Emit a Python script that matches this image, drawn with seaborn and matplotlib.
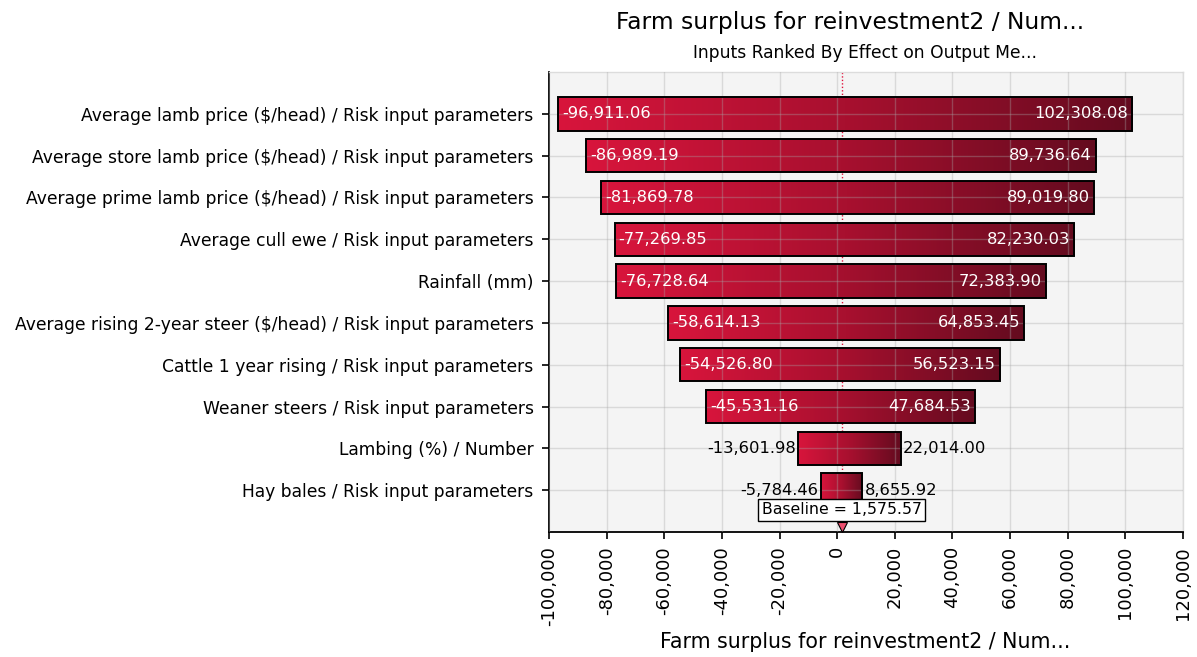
import numpy as np
import pandas as pd
import matplotlib
matplotlib.use("Agg")
import matplotlib.pyplot as plt
from matplotlib.colors import LinearSegmentedColormap
import seaborn as sns

# Tornado data: output value when each input is at its low / high setting
inputs = [
    "Average lamb price ($/head) / Risk input parameters",
    "Average store lamb price ($/head) / Risk input parameters",
    "Average prime lamb price ($/head) / Risk input parameters",
    "Average cull ewe / Risk input parameters",
    "Rainfall (mm)",
    "Average rising 2-year steer ($/head) / Risk input parameters",
    "Cattle 1 year rising / Risk input parameters",
    "Weaner steers / Risk input parameters",
    "Lambing (%) / Number",
    "Hay bales / Risk input parameters",
]
low_values = [-96911.06, -86989.19, -81869.78, -77269.85, -76728.64,
              -58614.13, -54526.80, -45531.16, -13601.98, -5784.46]
high_values = [102308.08, 89736.64, 89019.80, 82230.03, 72383.90,
               64853.45, 56523.15, 47684.53, 22014.00, 8655.92]
baseline = 1575.57
x_ticks = [-100000, -80000, -60000, -40000, -20000, 0, 20000, 40000, 60000, 80000, 100000, 120000]

title = "Farm surplus for reinvestment2 / Num..."
subtitle = "Inputs Ranked By Effect on Output Me..."
x_label = "Farm surplus for reinvestment2 / Num..."

df = pd.DataFrame({"input": inputs, "low": low_values, "high": high_values})

sns.set_theme(style="white")
plt.rcParams["font.family"] = ["DejaVu Sans"]
plt.rcParams["text.color"] = "black"
plt.rcParams["axes.labelcolor"] = "black"
plt.rcParams["xtick.color"] = "black"
plt.rcParams["ytick.color"] = "black"

fig = plt.figure(figsize=(11.97, 6.57), dpi=100)
ax = fig.add_axes([549 / 1197, 1 - 532 / 657, (1183 - 549) / 1197, (532 - 72) / 657])
ax.set_facecolor("#f4f4f4")

sns.barplot(data=df, x="high", y="input", orient="h", ax=ax, width=0.8,
            color="#b01030", edgecolor="black", linewidth=1.4, zorder=3)

grad_cmap = LinearSegmentedColormap.from_list("redgrad", ["#d8153c", "#a8102f", "#640b1f"])
gradient = np.linspace(0, 1, 256).reshape(1, -1)

for patch, lo, hi in zip(ax.patches, df["low"], df["high"]):
    patch.set_x(lo)
    patch.set_width(hi - lo)
    patch.set_facecolor("none")
    y0 = patch.get_y()
    h = patch.get_height()
    im = ax.imshow(gradient, extent=[lo, hi, y0 + h, y0], aspect="auto",
                   cmap=grad_cmap, zorder=2.5, interpolation="bicubic")
    im.set_clip_path(patch)

# value labels: inside the bar when it is wide enough, otherwise outside
for i, (lo, hi) in enumerate(zip(df["low"], df["high"])):
    inside = (hi - lo) > 60000
    if inside:
        ax.text(lo + 1400, i, f"{lo:,.2f}", ha="left", va="center",
                color="white", fontsize=11.8, zorder=6)
        ax.text(hi - 1400, i, f"{hi:,.2f}", ha="right", va="center",
                color="white", fontsize=11.8, zorder=6)
    else:
        ax.text(lo - 800, i, f"{lo:,.2f}", ha="right", va="center",
                color="black", fontsize=11.8, zorder=6)
        ax.text(hi + 800, i, f"{hi:,.2f}", ha="left", va="center",
                color="black", fontsize=11.8, zorder=6)

# baseline marker
ax.axvline(baseline, color="#e0103a", linestyle=(0, (1, 1.5)), linewidth=1, zorder=1.5)
ax.text(baseline, 9.47, f"Baseline = {baseline:,.2f}", ha="center", va="center",
        fontsize=11.3, zorder=7,
        bbox=dict(boxstyle="square,pad=0.22", facecolor="white", edgecolor="black", linewidth=1))
ax.plot([baseline], [9.88], marker="v", markersize=7, color="#ee5070",
        markeredgecolor="black", markeredgewidth=0.8, clip_on=False, zorder=8)

ax.set_xlim(-100000, 120000)
ax.set_ylim(10, -1)
ax.set_xticks(x_ticks)
ax.set_xticklabels([f"{v:,}" for v in x_ticks], rotation=90, fontsize=13)
ax.set_yticks(range(len(inputs)))
ax.set_yticklabels(inputs, fontsize=12.3)
ax.set_ylabel("")
ax.set_xlabel("")

ax.grid(True, color="#a8a8a8", alpha=0.35, linewidth=1)
ax.set_axisbelow(False)
for gl in ax.get_xgridlines() + ax.get_ygridlines():
    gl.set_zorder(4)

for side in ["top", "right"]:
    ax.spines[side].set_color("#dcdcdc")
    ax.spines[side].set_linewidth(1)
for side in ["left", "bottom"]:
    ax.spines[side].set_color("black")
    ax.spines[side].set_linewidth(1.3)
ax.tick_params(axis="both", which="major", direction="out", length=5, width=1.2,
               color="black", left=True, bottom=True, labelcolor="black")
ax.tick_params(axis="y", pad=6)
ax.tick_params(axis="x", pad=5)

fig.text(850 / 1197, 1 - 22 / 657, title, ha="center", va="center", fontsize=16.8)
fig.text(865 / 1197, 1 - 53 / 657, subtitle, ha="center", va="center", fontsize=12.3)
fig.text(865 / 1197, 1 - 642 / 657, x_label, ha="center", va="center", fontsize=14.8)

fig.savefig("out.png", dpi=100, facecolor="white")
